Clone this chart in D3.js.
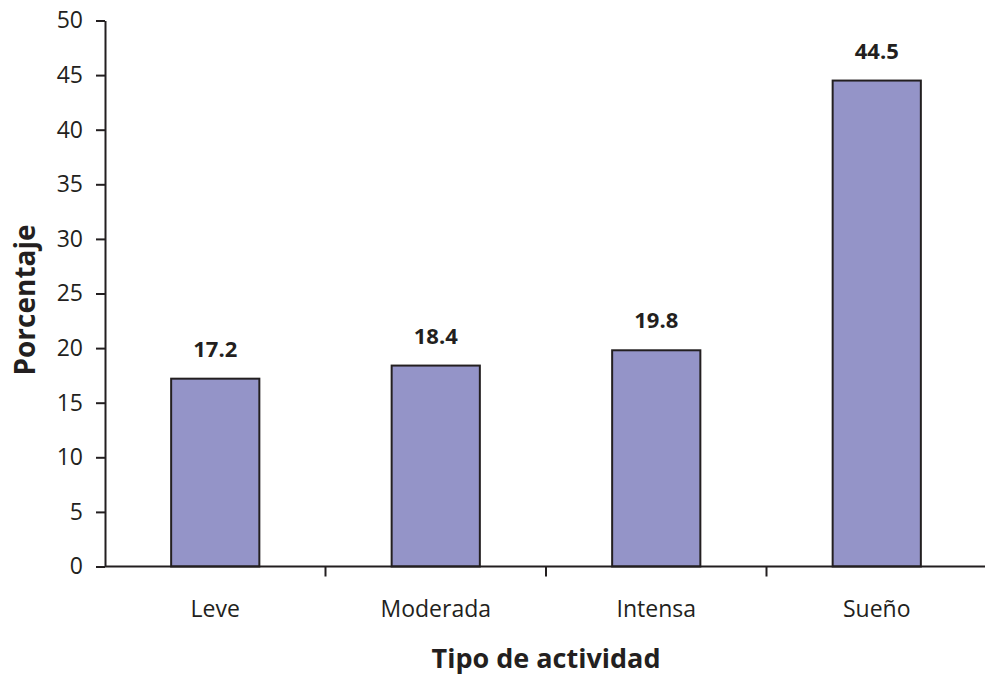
<!DOCTYPE html>
<html>
<head>
<meta charset="utf-8">
<script src="https://cdn.jsdelivr.net/npm/d3@7"></script>
<style>
  html, body { margin: 0; padding: 0; background: #fff; }
  svg { display: block; font-family: "Open Sans", sans-serif; }
</style>
</head>
<body>
<svg id="chart" width="985" height="680"></svg>
<script>
// Share of time by type of activity (percent)
const categories = ["Leve", "Moderada", "Intensa", "Sueño"];
const values = [17.2, 18.4, 19.8, 44.5];
const yTicks = [0, 5, 10, 15, 20, 25, 30, 35, 40, 45, 50];

const svg = d3.select("#chart");
const margin = { left: 105, right: -2, top: 20.5, bottom: 113.5 };
const W = 985, H = 680;
const ink = "#231f20";
const font = "'Open Sans', sans-serif";

const x = d3.scaleBand()
  .domain(categories)
  .range([margin.left, W - margin.right])
  .paddingInner(0.6)
  .paddingOuter(0.3);

const y = d3.scaleLinear()
  .domain([0, 50])
  .range([H - margin.bottom, margin.top]);

const rows = categories.map((c, i) => ({ c, v: values[i] }));

// Bars
svg.append("g").selectAll("rect")
  .data(rows)
  .join("rect")
  .attr("x", d => x(d.c))
  .attr("y", d => y(d.v))
  .attr("width", x.bandwidth())
  .attr("height", d => y(0) - y(d.v))
  .attr("fill", "#9494c8")
  .attr("stroke", ink)
  .attr("stroke-width", 2);

// Value labels
svg.append("g").selectAll("text")
  .data(rows)
  .join("text")
  .attr("x", d => x(d.c) + x.bandwidth() / 2)
  .attr("y", d => y(d.v) - 22)
  .attr("text-anchor", "middle")
  .attr("font-size", 22)
  .attr("font-weight", "bold")
  .attr("fill", ink)
  .text(d => d.v.toFixed(1));

// Y axis
const yAxis = svg.append("g")
  .attr("transform", `translate(${margin.left},0)`)
  .call(d3.axisLeft(y).tickValues(yTicks).tickSize(9).tickPadding(13).tickSizeOuter(0));
yAxis.select(".domain").attr("stroke", ink).attr("stroke-width", 2);
yAxis.selectAll(".tick line").attr("stroke", ink).attr("stroke-width", 2);
yAxis.selectAll(".tick text").attr("font-size", 23).attr("fill", ink)
  .attr("font-family", font);

// X axis: ticks sit on category boundaries
const step = x.step();
const boundaries = d3.range(categories.length + 1).map(i => margin.left + i * step);
const xAxisG = svg.append("g");
xAxisG.append("line")
  .attr("x1", margin.left).attr("x2", W)
  .attr("y1", y(0)).attr("y2", y(0))
  .attr("stroke", ink).attr("stroke-width", 2);
xAxisG.selectAll("line.tick")
  .data(boundaries.slice(1, -1))
  .join("line")
  .attr("class", "tick")
  .attr("x1", d => d).attr("x2", d => d)
  .attr("y1", y(0)).attr("y2", y(0) + 10)
  .attr("stroke", ink).attr("stroke-width", 2);
xAxisG.selectAll("text")
  .data(categories)
  .join("text")
  .attr("x", d => x(d) + x.bandwidth() / 2)
  .attr("y", y(0) + 50)
  .attr("text-anchor", "middle")
  .attr("font-size", 23)
  .attr("fill", ink)
  .text(d => d);

// Axis titles
svg.append("text")
  .attr("x", 546)
  .attr("y", 668)
  .attr("text-anchor", "middle")
  .attr("font-size", 27)
  .attr("font-weight", "bold")
  .attr("fill", ink)
  .text("Tipo de actividad");

svg.append("text")
  .attr("transform", `translate(35,300) rotate(-90)`)
  .attr("text-anchor", "middle")
  .attr("font-size", 28)
  .attr("font-weight", "bold")
  .attr("fill", ink)
  .text("Porcentaje");
</script>
</body>
</html>
